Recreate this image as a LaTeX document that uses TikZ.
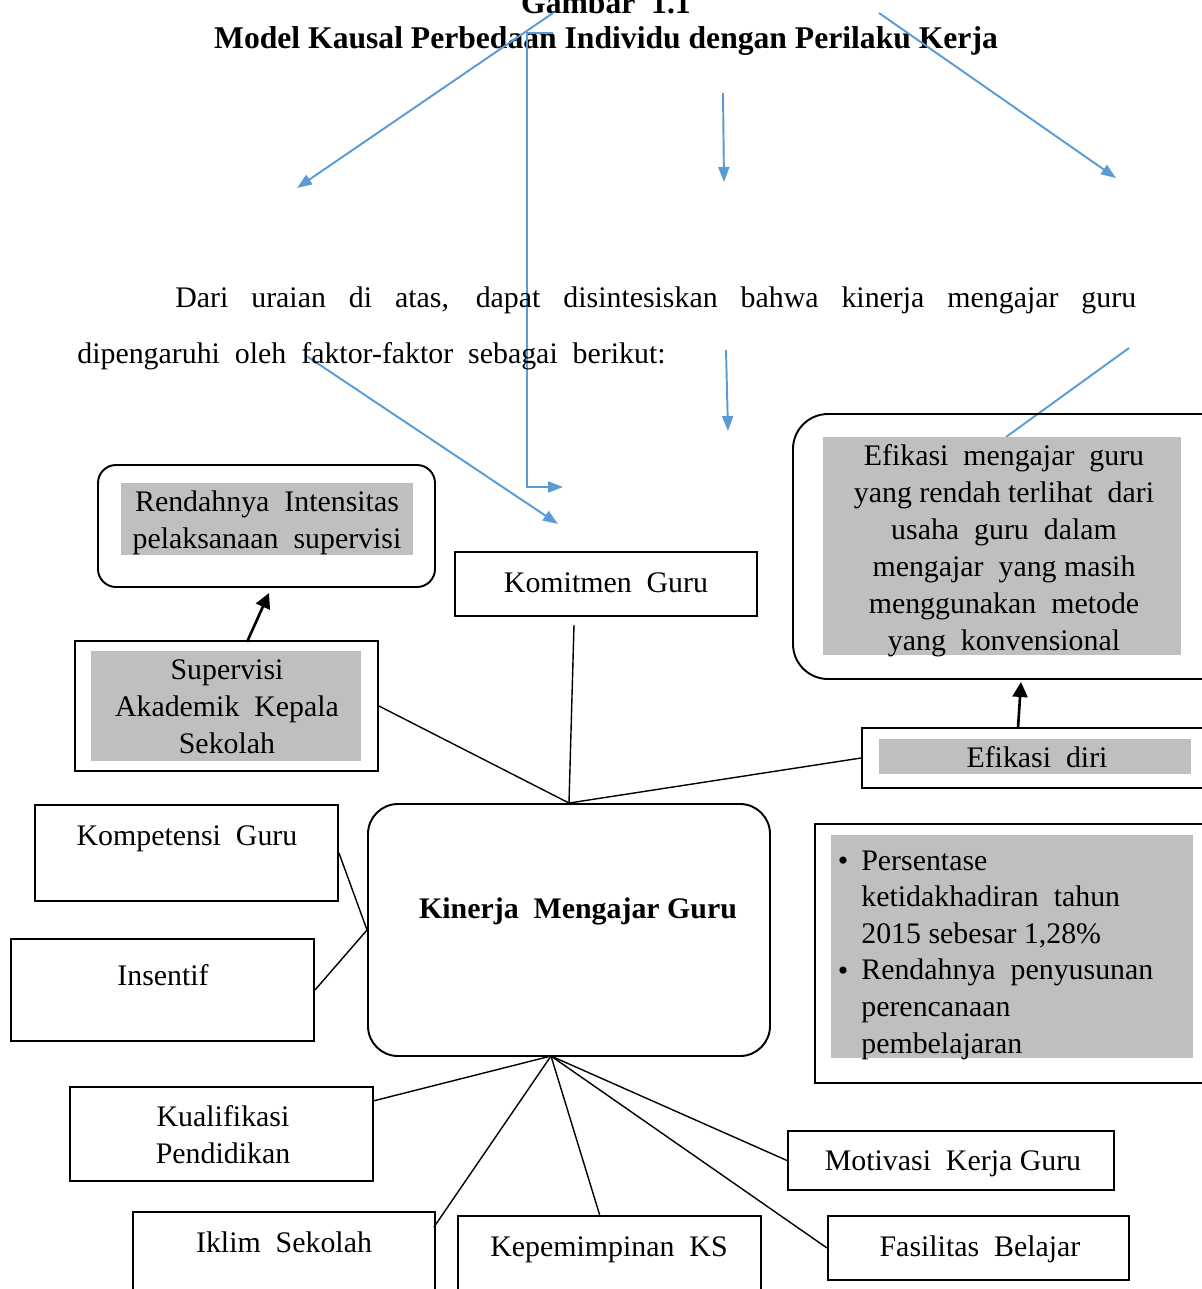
\documentclass[tikz,border=0pt]{standalone}
\usepackage{fontspec}
\setmainfont{Liberation Serif}
\usetikzlibrary{arrows.meta, fit}

\definecolor{biru}{HTML}{5B9BD5}
\definecolor{abuabu}{HTML}{BFBFBF}
\newcommand{\ukuran}{\fontsize{17}{21}\selectfont}

\tikzset{
  kotak/.style={draw, line width=1.1pt, inner sep=0pt},
  abu/.style={fill=abuabu, inner sep=0pt},
  teks/.style={align=center, inner sep=0pt, font=\ukuran},
  garis/.style={line width=0.8pt},
  panahbiru/.style={draw=biru, line width=1.1pt, -{Triangle[length=0.3cm, width=0.22cm]}},
  panahhitam/.style={line width=1.5pt, -{Triangle[length=0.3cm, width=0.3cm]}}
}

\begin{document}
\begin{tikzpicture}[x=0.02cm, y=-0.02cm]
		\useasboundingbox (0,0) rectangle (1202,1289);
		\clip (0,0) rectangle (1202,1289);

		% judul gambar
		\node[teks, anchor=base, font=\fontsize{18}{21}\selectfont\bfseries] (gbr) at (606,13) {Gambar\ \ 1.1};
		\node[teks, anchor=base, font=\fontsize{18}{21}\selectfont\bfseries] (judul) at (606,48) {Model Kausal Perbedaan Individu\ dengan Perilaku\ Kerja};

		% panah biru sisa gambar sebelumnya
		\coordinate (b1) at (553,13);
		\coordinate (b2) at (297,188);
		\coordinate (b3) at (879,13);
		\coordinate (b4) at (1116,178);
		\coordinate (b5) at (723,93);
		\coordinate (b6) at (724,182);
		\coordinate (b7) at (553,33);
		\coordinate (b8) at (563,487);
		\coordinate (b9) at (305,355);
		\coordinate (b10) at (558,524);
		\coordinate (b11) at (726,350);
		\coordinate (b12) at (728,431);
		\coordinate (b13) at (1129,348);
		\coordinate (b14) at (1006,437);
		\draw[panahbiru] (b1) -- (b2);
		\draw[panahbiru] (b3) -- (b4);
		\draw[panahbiru] (b5) -- (b6);
		\draw[panahbiru] (b7) -- (527,33) -- (527,487) -- (b8);
		\draw[panahbiru] (b9) -- (b10);
		\draw[panahbiru] (b11) -- (b12);
		\draw[draw=biru, line width=1.1pt] (b13) -- (b14);

		% paragraf
		\node[anchor=base west, text width=21.18cm, align=justify, inner sep=0pt, font=\fontsize{17}{31.9}\selectfont] (para) at (77,307)
			{\hspace*{1.96cm}Dari uraian di atas, dapat disintesiskan bahwa kinerja mengajar guru\linebreak dipengaruhi\ \ oleh\ \ faktor-faktor\ \ sebagai\ \ berikut:};

		% kotak-kotak
		\node[kotak, rounded corners=0.36cm, fit={(98,465) (435,587)}] (rendah) {};
		\node[abu, fit={(121,483) (413,555)}] (rendahisi) {};
		\node[teks, anchor=base] (trendah) at (267,548) {Rendahnya\ \ Intensitas\\pelaksanaan\ \ supervisi};

		\node[kotak, fit={(75,641) (378,771)}] (sup) {};
		\node[abu, fit={(91,651) (361,761)}] (supisi) {};
		\node[teks, anchor=base] (tsup) at (227,753) {Supervisi\\Akademik\ \ Kepala\\Sekolah};

		\node[kotak, fit={(455,552) (757,616)}] (kom) {};
		\node[teks, anchor=base] (tkom) at (606,592) {Komitmen\ \ Guru};

		\node[kotak, rounded corners=0.7cm, fit={(793,414) (1240,679)}] (efm) {};
		\node[abu, fit={(823,437) (1181,655)}] (efmisi) {};
		\node[teks, anchor=base] (tefm) at (1004,650) {Efikasi\ \ mengajar\ \ guru\\yang rendah terlihat\ \ dari\\usaha\ \ guru\ \ dalam\\mengajar\ \ yang masih\\menggunakan\ \ metode\\yang\ \ konvensional};

		\node[kotak, fit={(862,728) (1240,788)}] (efd) {};
		\node[abu, fit={(879,739) (1191,774)}] (efdisi) {};
		\node[teks, anchor=base] (tefd) at (1037,767) {Efikasi\ \ diri};

		\node[kotak, fit={(815,824) (1240,1083)}] (pers) {};
		\node[abu, fit={(831,835) (1193,1058)}] (persisi) {};
		\node[teks, anchor=base west, align=left, font=\fontsize{17}{20.8}\selectfont] (tpers) at (861,1053) {Persentase\\ketidakhadiran\ \ tahun\\2015 sebesar 1,28\%\\Rendahnya\ \ penyusunan\\perencanaan\\pembelajaran};
		\node[teks, anchor=base] (bul1) at (843,870) {\textbullet};
		\node[teks, anchor=base] (bul2) at (843,980) {\textbullet};

		\node[kotak, rounded corners=0.6cm, fit={(368,804) (770,1056)}] (kinerja) {};
		\node[teks, anchor=base, font=\ukuran\bfseries] (tkinerja) at (578,918) {Kinerja\ \ Mengajar Guru};

		\node[kotak, fit={(35,805) (338,901)}] (kmp) {};
		\node[teks, anchor=base] (tkmp) at (187,845) {Kompetensi\ \ Guru};

		\node[kotak, fit={(11,939) (314,1041)}] (ins) {};
		\node[teks, anchor=base] (tins) at (163,985) {Insentif};

		\node[kotak, fit={(70,1087) (373,1181)}] (kua) {};
		\node[teks, anchor=base] (tkua) at (223,1163) {Kualifikasi\\Pendidikan};

		\node[kotak, fit={(133,1212) (435,1320)}] (ikl) {};
		\node[teks, anchor=base] (tikl) at (284,1252) {Iklim\ \ Sekolah};

		\node[kotak, fit={(458,1216) (761,1320)}] (kep) {};
		\node[teks, anchor=base] (tkep) at (609,1256) {Kepemimpinan\ \ KS};

		\node[kotak, fit={(788,1131) (1114,1190)}] (mot) {};
		\node[teks, anchor=base] (tmot) at (953,1170) {Motivasi\ \ Kerja Guru};

		\node[kotak, fit={(828,1216) (1129,1280)}] (fas) {};
		\node[teks, anchor=base] (tfas) at (980,1256) {Fasilitas\ \ Belajar};

		% panah hitam
		\coordinate (supatas) at (247,642);
		\coordinate (rendahbawah) at (269,593);
		\coordinate (efdatas) at (1018,728);
		\coordinate (efmbawah) at (1021,682);
		\draw[panahhitam] (supatas) -- (rendahbawah);
		\draw[panahhitam] (efdatas) -- (efmbawah);

		% garis penghubung
		\coordinate (kombawah) at (574,625);
		\coordinate (hubbawah) at (551,1056);
		\coordinate (kuaujung) at (373,1101);
		\coordinate (iklujung) at (434,1227);
		\coordinate (kepujung) at (600,1216);
		\draw[garis] (sup.east) -- (kinerja.north);
		\draw[garis] (kombawah) -- (kinerja.north);
		\draw[garis] (efd.west) -- (kinerja.north);
		\draw[garis] (kmp.east) -- (kinerja.west);
		\draw[garis] (ins.east) -- (kinerja.west);
		\draw[garis] (hubbawah) -- (kuaujung);
		\draw[garis] (hubbawah) -- (iklujung);
		\draw[garis] (hubbawah) -- (kepujung);
		\draw[garis] (hubbawah) -- (mot.west);
		\draw[garis] (hubbawah) -- (fas.west);
	\end{tikzpicture}
\end{document}
